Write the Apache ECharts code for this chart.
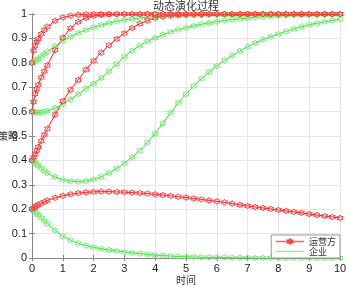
<!DOCTYPE html>
<html>
<head>
<meta charset="utf-8">
<script src="https://cdn.jsdelivr.net/npm/echarts@6/dist/echarts.min.js"></script>
<style>
  html, body { margin: 0; padding: 0; background: #fff; }
  #chart { width: 346px; height: 287px; }
</style>
</head>
<body>
<div id="chart"></div>
<script>
// time steps of the solver output
const times = [0, 0.05, 0.1, 0.15, 0.2, 0.3, 0.4, 0.5, 0.75, 1, 1.25, 1.5, 1.75, 2, 2.25, 2.5, 2.75, 3,
  3.25, 3.5, 3.75, 4, 4.25, 4.5, 4.75, 5, 5.25, 5.5, 5.75, 6, 6.25, 6.5, 6.75, 7, 7.25, 7.5, 7.75, 8,
  8.25, 8.5, 8.75, 9, 9.25, 9.5, 9.75, 10];

// 运营方 (red) trajectories
const op02 = [0.2, 0.205, 0.21, 0.214, 0.218, 0.224, 0.23, 0.236, 0.247, 0.255, 0.261, 0.266, 0.269, 0.271,
  0.272, 0.272, 0.271, 0.27, 0.268, 0.266, 0.264, 0.261, 0.258, 0.255, 0.251, 0.248, 0.244, 0.24, 0.236,
  0.232, 0.228, 0.223, 0.218, 0.213, 0.209, 0.205, 0.201, 0.197, 0.193, 0.189, 0.185, 0.18, 0.176, 0.172,
  0.168, 0.164];
const op04 = [0.4, 0.412, 0.425, 0.44, 0.455, 0.48, 0.505, 0.53, 0.588, 0.643, 0.69, 0.73, 0.772, 0.808,
  0.842, 0.872, 0.898, 0.921, 0.943, 0.96, 0.973, 0.984, 0.99, 0.994, 0.996, 0.998, 0.999, 0.999, 1, 1,
  1, 1, 1, 1, 1, 1, 1, 1, 1, 1, 1, 1, 1, 1, 1, 1];
const op06 = [0.6, 0.64, 0.672, 0.692, 0.71, 0.74, 0.765, 0.79, 0.852, 0.903, 0.942, 0.968, 0.984, 0.992,
  0.996, 0.998, 0.999, 1, 1, 1, 1, 1, 1, 1, 1, 1, 1, 1, 1, 1, 1, 1, 1, 1, 1, 1, 1, 1, 1, 1, 1, 1, 1, 1,
  1, 1];
const op08 = [0.8, 0.85, 0.87, 0.886, 0.898, 0.918, 0.935, 0.948, 0.972, 0.986, 0.993, 0.997, 0.999, 1,
  1, 1, 1, 1, 1, 1, 1, 1, 1, 1, 1, 1, 1, 1, 1, 1, 1, 1, 1, 1, 1, 1, 1, 1, 1, 1, 1, 1, 1, 1, 1, 1];

// 企业 (green) trajectories
const firm02 = [0.2, 0.194, 0.188, 0.182, 0.176, 0.164, 0.152, 0.14, 0.113, 0.09, 0.073, 0.06, 0.051,
  0.044, 0.038, 0.033, 0.029, 0.025, 0.021, 0.018, 0.015, 0.012, 0.01, 0.008, 0.006, 0.005, 0.004, 0.003,
  0.003, 0.002, 0.002, 0.001, 0.001, 0.001, 0, 0, 0, 0, 0, 0, 0, 0, 0, 0, 0, 0];
const firm04 = [0.4, 0.395, 0.39, 0.384, 0.378, 0.368, 0.357, 0.348, 0.332, 0.321, 0.315, 0.313, 0.316,
  0.322, 0.333, 0.349, 0.367, 0.388, 0.413, 0.44, 0.474, 0.51, 0.552, 0.595, 0.636, 0.672, 0.705, 0.735,
  0.762, 0.787, 0.81, 0.83, 0.849, 0.866, 0.881, 0.895, 0.907, 0.918, 0.929, 0.939, 0.948, 0.956, 0.962,
  0.968, 0.973, 0.978];
const firm06 = [0.6, 0.598, 0.597, 0.596, 0.596, 0.597, 0.6, 0.603, 0.615, 0.63, 0.65, 0.672, 0.694,
  0.715, 0.738, 0.765, 0.795, 0.825, 0.85, 0.87, 0.888, 0.902, 0.915, 0.927, 0.936, 0.944, 0.951, 0.958,
  0.963, 0.969, 0.973, 0.977, 0.98, 0.983, 0.986, 0.989, 0.991, 0.993, 0.994, 0.995, 0.996, 0.997, 0.997,
  0.998, 0.998, 0.998];
const firm08 = [0.8, 0.804, 0.808, 0.812, 0.816, 0.826, 0.836, 0.846, 0.868, 0.89, 0.908, 0.922, 0.935,
  0.946, 0.955, 0.963, 0.97, 0.976, 0.98, 0.984, 0.987, 0.989, 0.991, 0.992, 0.993, 0.994, 0.994, 0.995,
  0.995, 0.995, 0.996, 0.996, 0.996, 0.996, 0.996, 0.997, 0.997, 0.997, 0.997, 0.997, 0.997, 0.997, 0.997,
  0.998, 0.998, 0.999];

const xTicks = [0, 1, 2, 3, 4, 5, 6, 7, 8, 9, 10];

const RED = '#ff1a1a';
const GREEN = '#33dd33';
const hexagram = 'path://M0,-10L2.887,-5L8.66,-5L5.774,0L8.66,5L2.887,5L0,10L-2.887,5L-8.66,5L-5.774,0L-8.66,-5L-2.887,-5Z';
const font = '"Liberation Sans", Arial, sans-serif';
const cjk = '"Noto Sans CJK SC", sans-serif';

function makeSeries(name, values, color, markColor) {
  return {
    name: name,
    type: 'line',
    data: times.map((t, i) => [t, values[i]]),
    symbol: hexagram,
    symbolSize: 6,
    showAllSymbol: true,
    lineStyle: { color: color, width: 1 },
    itemStyle: { color: 'rgba(255,255,255,0)', borderColor: markColor, borderWidth: 1 },
    emphasis: { disabled: true },
    animation: false,
  };
}

const chart = echarts.init(document.getElementById('chart'));

const option = {
  backgroundColor: '#fff',
  animation: false,
  title: {
    text: '动态演化过程',
    left: 153,
    top: 0,
    padding: 0,
    textStyle: { fontFamily: cjk, fontSize: 11, fontWeight: 'normal', color: '#333' },
  },
  grid: { left: 32, right: 6, top: 14, bottom: 29, containLabel: false, outerBoundsMode: 'none' },
  legend: {
    orient: 'vertical',
    right: 6,
    bottom: 29,
    itemWidth: 28,
    itemHeight: 8,
    itemGap: 1,
    padding: [2, 4, 2, 4],
    backgroundColor: '#fff',
    borderColor: '#999',
    borderWidth: 1,
    borderRadius: 0,
    textStyle: { fontFamily: cjk, fontSize: 9, color: '#333' },
    data: [
      {
        name: '运营方',
        lineStyle: { width: 1.5, color: '#ff6060' },
        itemStyle: { color: '#ff4040', borderColor: '#ff4040', borderWidth: 1 },
      },
      {
        name: '企业',
        lineStyle: { width: 1.5, color: '#99ee99', opacity: 1 },
        itemStyle: { color: 'rgba(255,255,255,0)', borderColor: 'rgba(255,255,255,0)', borderWidth: 0 },
      },
    ],
  },
  xAxis: [
    {
      type: 'value',
      min: 0,
      max: 10,
      interval: 1,
      name: '时间',
      nameLocation: 'middle',
      nameGap: 17,
      nameMoveOverlap: false,
      nameTextStyle: { fontFamily: cjk, fontSize: 10, color: '#333' },
      axisLine: { lineStyle: { color: '#888' } },
      axisTick: { inside: true, length: 3, lineStyle: { color: '#888' } },
      axisLabel: {
        fontFamily: font, fontSize: 11, color: '#222', margin: 5,
        formatter: (v) => (xTicks.includes(v) ? String(v) : ''),
      },
      splitLine: { show: true, lineStyle: { color: '#e6e6e6' } },
    },
    {
      type: 'value',
      position: 'top',
      min: 0,
      max: 10,
      interval: 1,
      axisLine: { show: true, lineStyle: { color: '#888' } },
      axisTick: { inside: true, length: 3, lineStyle: { color: '#888' } },
      axisLabel: { show: false },
      splitLine: { show: false },
    },
  ],
  yAxis: [
    {
      type: 'value',
      min: 0,
      max: 1,
      interval: 0.1,
      name: '策略',
      nameLocation: 'middle',
      nameRotate: 0,
      nameGap: 14,
      nameMoveOverlap: false,
      nameTextStyle: { fontFamily: cjk, fontSize: 10, color: '#333', padding: [0, 0, 16, 0] },
      axisLine: { show: true, lineStyle: { color: '#888' } },
      axisTick: { show: true, inside: true, length: 3, lineStyle: { color: '#888' } },
      axisLabel: { fontFamily: font, fontSize: 11, color: '#222', margin: 5 },
      splitLine: { show: true, lineStyle: { color: '#e6e6e6' } },
    },
    {
      type: 'value',
      position: 'right',
      min: 0,
      max: 1,
      interval: 0.1,
      axisLine: { show: true, lineStyle: { color: '#888' } },
      axisTick: { show: true, inside: true, length: 3, lineStyle: { color: '#888' } },
      axisLabel: { show: false },
      splitLine: { show: false },
    },
  ],
  series: [
    makeSeries('企业', firm02, GREEN, '#77ee77'),
    makeSeries('企业', firm04, GREEN, '#77ee77'),
    makeSeries('企业', firm06, GREEN, '#77ee77'),
    makeSeries('企业', firm08, GREEN, '#77ee77'),
    makeSeries('运营方', op02, RED, '#ff4040'),
    makeSeries('运营方', op04, RED, '#ff4040'),
    makeSeries('运营方', op06, RED, '#ff4040'),
    makeSeries('运营方', op08, RED, '#ff4040'),
  ],
};

chart.setOption(option);
</script>
</body>
</html>
